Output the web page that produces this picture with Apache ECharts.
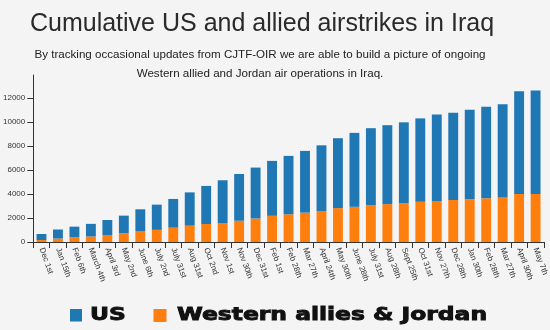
<!DOCTYPE html>
<html>
<head>
<meta charset="utf-8">
<script src="https://cdn.jsdelivr.net/npm/echarts@6/dist/echarts.min.js"></script>
<style>
html,body{margin:0;padding:0;background:#f4f4f4;}
#chart{width:550px;height:330px;}
</style>
</head>
<body>
<div id="chart"></div>
<script>
const categories = ['Dec 1st','Jan 15th','Feb 6th','March 4th','April 3rd','May 2nd','June 6th','July 2nd','July 31st','Aug 31st','Oct 2nd','Nov 1st','Nov 30th','Dec 31st','Feb 1st','Feb 28th','Mar 27th','April 24th','May 30th','June 28th','July 31st','Aug 28th','Sept 25th','Oct 31st','Nov 27th','Dec 28th','Jan 30th','Feb 28th','Mar 27th','April 30th','May 7th'];
const alliesValues = [167,290,389,460,583,722,917,1010,1194,1361,1500,1583,1770,1960,2180,2306,2444,2583,2820,2930,3070,3150,3240,3350,3417,3500,3556,3639,3710,4000,4000];
const usValues = [500,750,889,1050,1250,1472,1805,2100,2389,2769,3167,3556,3890,4234,4570,4861,5139,5462,5819,6153,6402,6572,6720,6940,7194,7265,7444,7611,7762,8556,8611];
const yTicks = [0,2000,4000,6000,8000,10000,12000];
const seriesNames = ['US','Western allies & Jordan'];
const seriesColors = ['#1f77b4','#ff7f0e'];
const titleText = 'Cumulative US and allied airstrikes in Iraq';
const subtitleText = 'By tracking occasional updates from CJTF-OIR we are able to build a picture of ongoing\nWestern allied and Jordan air operations in Iraq.';

const chart = echarts.init(document.getElementById('chart'));
const font = 'Liberation Sans, Arial, sans-serif';
const legendFont = 'DejaVu Sans, sans-serif';
chart.setOption({
  backgroundColor: '#f4f4f4',
  animation: false,
  title: [
    {text: titleText, left: 262, top: 12, textAlign: 'center', padding: 0,
     textStyle: {fontFamily: font, fontSize: 25, fontWeight: 'normal', color: '#2a2a2a'}},
    {text: subtitleText, left: 260, top: 45, textAlign: 'center', padding: 0,
     textStyle: {fontFamily: font, fontSize: 11.6, fontWeight: 'normal', color: '#222', lineHeight: 19}}
  ],
  graphic: [
    {type: 'rect', shape: {x: 70, y: 309, width: 12, height: 12.5}, style: {fill: seriesColors[0]}},
    {type: 'text', x: 90, y: 315.5, scaleX: 1.3,
     style: {text: seriesNames[0], fontFamily: legendFont, fontSize: 18, fontWeight: 'bold', fill: '#111',
             stroke: '#111', lineWidth: 0.9, verticalAlign: 'middle'}},
    {type: 'rect', shape: {x: 153.5, y: 309, width: 13, height: 13}, style: {fill: seriesColors[1]}},
    {type: 'text', x: 177, y: 315.5, scaleX: 1.3,
     style: {text: seriesNames[1], fontFamily: legendFont, fontSize: 18, fontWeight: 'bold', fill: '#111',
             stroke: '#111', lineWidth: 0.9, verticalAlign: 'middle'}}
  ],
  grid: {left: 30.5, right: 2, top: 75, bottom: 88, containLabel: false},
  xAxis: {
    type: 'category',
    data: categories,
    axisLine: {lineStyle: {color: '#333', width: 1}},
    axisTick: {show: true, length: 6, lineStyle: {color: '#333'}},
    axisLabel: {interval: 0, rotate: -70, fontFamily: font, fontSize: 8, color: '#333', margin: 6}
  },
  yAxis: {
    type: 'value',
    min: 0, max: 13900, interval: 2000,
    axisLine: {show: true, lineStyle: {color: '#333', width: 1}},
    axisTick: {show: true, length: 6, lineStyle: {color: '#333'}},
    splitLine: {show: false},
    axisLabel: {showMaxLabel: false, fontFamily: font, fontSize: 8, color: '#333', margin: 8,
      formatter: function (v) { return yTicks.indexOf(v) >= 0 ? String(v) : ''; }}
  },
  series: [
    {name: seriesNames[1], type: 'bar', stack: 'total', data: alliesValues, barWidth: '60%',
     itemStyle: {color: seriesColors[1]}},
    {name: seriesNames[0], type: 'bar', stack: 'total', data: usValues, barWidth: '60%',
     itemStyle: {color: seriesColors[0]}}
  ]
});
</script>
</body>
</html>
